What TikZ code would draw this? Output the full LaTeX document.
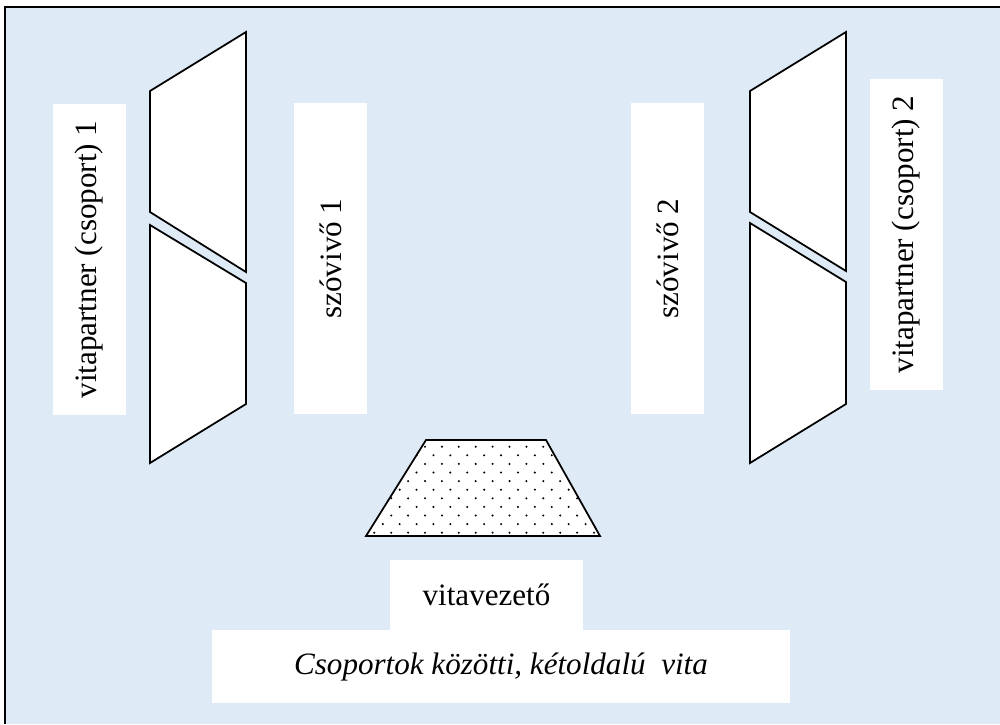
\documentclass[tikz,border=0pt]{standalone}
\usepackage{fontspec}
\setmainfont{Liberation Serif}
\definecolor{bgblue}{HTML}{DEEAF6}
\begin{document}
\begin{tikzpicture}[x=0.02cm,y=-0.02cm,
  panel/.style={draw=black,fill=white,line width=1pt,line join=miter},
  vbox/.style={fill=white,inner sep=0pt,rotate=90,minimum width=6.22cm,minimum height=1.46cm,font=\fontsize{17.7}{21}\selectfont},
  hbox/.style={fill=white,inner sep=0pt,font=\fontsize{17.7}{21}\selectfont}]
\useasboundingbox (0,0) rectangle (1000,724);
\fill[bgblue] (5,7) rectangle (1000,724);
\draw[line width=1.1pt] (5,724) -- (5,7) -- (1000,7);
% left panels
\draw[panel] (150,91) -- (246,32) -- (246,272) -- (150,212) -- cycle;
\draw[panel] (150,225) -- (246,283) -- (246,404) -- (150,463) -- cycle;
% right panels
\draw[panel] (750,91) -- (846,32) -- (846,271) -- (750,212) -- cycle;
\draw[panel] (750,223) -- (846,282) -- (846,404) -- (750,463) -- cycle;
% labels
\node[vbox] (vp1) at (89.5,259.5) {vitapartner (csoport) 1};
\node[vbox] (sz1) at (330.5,258.5) {szóvivő 1};
\node[vbox] (sz2) at (667.5,258.5) {szóvivő 2};
\node[vbox] (vp2) at (906.5,234.5) {vitapartner (csoport) 2};
% table
\begin{scope}
\clip (426,440) -- (546,440) -- (600,536) -- (366,536) -- cycle;
\fill[white] (366,440) rectangle (600,536);
\foreach \j in {0,...,10} {
  \foreach \i in {-4,...,11} {
    \fill ({425+16.9*\i+8.45*mod(\j,2)},{446.7+8.6*\j}) circle[radius=0.65pt];
  }
}
\end{scope}
\draw[panel,fill=none] (426,440) -- (546,440) -- (600,536) -- (366,536) -- cycle;
% bottom boxes
\node[hbox,minimum width=3.86cm,minimum height=1.4cm] (vv) at (486.5,595) {vitavezető};
\node[hbox,minimum width=11.56cm,minimum height=1.46cm,font=\fontsize{17.7}{21}\selectfont\itshape] (cap) at (501,666.5) {Csoportok közötti, kétoldalú\ \ vita};
\end{tikzpicture}
\end{document}
